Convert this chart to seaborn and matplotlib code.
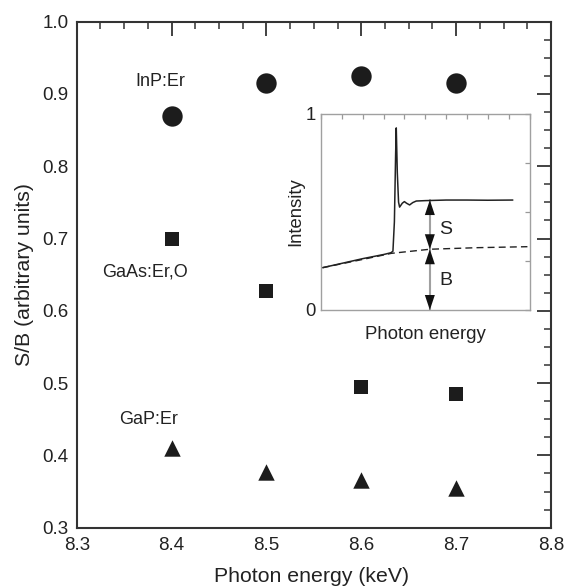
import matplotlib
matplotlib.use("Agg")
import matplotlib.pyplot as plt
import seaborn as sns
import pandas as pd
from matplotlib.ticker import MultipleLocator

sns.set_theme(style="white")
plt.rcParams['font.family'] = ['Liberation Sans', 'DejaVu Sans']

# ---- data ----
energy = [8.4, 8.5, 8.6, 8.7]
inp_er = [0.870, 0.915, 0.925, 0.915]
gaas_er_o = [0.700, 0.628, 0.495, 0.485]
gap_er = [0.410, 0.377, 0.366, 0.355]

# inset spectrum (arbitrary units)
spec_x = [0.008, 0.10, 0.20, 0.30, 0.335, 0.345, 0.352, 0.358, 0.361, 0.366,
          0.372, 0.377, 0.39, 0.40, 0.41, 0.425, 0.44, 0.457, 0.50, 0.60,
          0.70, 0.80, 0.92]
spec_y = [0.216, 0.238, 0.262, 0.283, 0.292, 0.30, 0.45, 0.80, 0.929, 0.70,
          0.55, 0.525, 0.545, 0.553, 0.545, 0.536, 0.548, 0.556, 0.558, 0.561,
          0.561, 0.560, 0.561]
bg_x = [0.008, 0.20, 0.337, 0.522, 0.75, 0.99]
bg_y = [0.216, 0.258, 0.289, 0.310, 0.318, 0.323]
arrow_x = 0.522
s_level = 0.561
b_level = 0.310

ink = '#1c1c1c'
txt = '#222222'
fig = plt.figure(figsize=(5.65, 5.86), dpi=100)
ax = fig.add_axes([0.1358, 0.0995, 0.8395, 0.8635])

sns.scatterplot(x=energy, y=inp_er, marker='o', s=215, color=ink, edgecolor=ink, linewidth=0, ax=ax)
sns.scatterplot(x=energy, y=gaas_er_o, marker='s', s=112, color=ink, edgecolor=ink, linewidth=0, ax=ax)
sns.scatterplot(x=energy, y=gap_er, marker='^', s=140, color=ink, edgecolor=ink, linewidth=0, ax=ax)

ax.set_xlim(8.3, 8.8)
ax.set_ylim(0.3, 1.0)
ax.xaxis.set_major_locator(MultipleLocator(0.1))
ax.xaxis.set_minor_locator(MultipleLocator(0.025))
ax.yaxis.set_major_locator(MultipleLocator(0.1))
ax.yaxis.set_minor_locator(MultipleLocator(0.025))
ax.xaxis.set_major_formatter(matplotlib.ticker.FormatStrFormatter('%.1f'))
ax.yaxis.set_major_formatter(matplotlib.ticker.FormatStrFormatter('%.1f'))
ax.tick_params(which='both', direction='in', top=True, right=True, color='#333333',
               labelsize=13.5, labelcolor=txt)
ax.tick_params(axis='x', which='major', pad=7)
ax.tick_params(axis='y', which='major', pad=6)
ax.tick_params(which='major', length=10, width=1.3)
ax.tick_params(which='minor', length=5, width=1.1)
for sp in ax.spines.values():
    sp.set_color('#333333')
    sp.set_linewidth(1.5)
ax.set_xlabel('Photon energy (keV)', fontsize=15.3, color=txt)
ax.xaxis.set_label_coords(0.495, -0.078)
ax.set_ylabel('S/B (arbitrary units)', fontsize=15.3, color=txt)
ax.yaxis.set_label_coords(-0.09, 0.5)

ax.text(8.388, 0.917, 'InP:Er', ha='center', va='center', fontsize=13, color=txt)
ax.text(8.372, 0.654, 'GaAs:Er,O', ha='center', va='center', fontsize=13, color=txt)
ax.text(8.376, 0.449, 'GaP:Er', ha='center', va='center', fontsize=13, color=txt)

# ---- inset ----
ins = fig.add_axes([321.0 / 565, 1 - 310.0 / 586, 208.5 / 565, 196.0 / 586])
ins.set_facecolor('white')
sns.lineplot(x=spec_x, y=spec_y, color=txt, linewidth=1.1, estimator=None, ax=ins)
sns.lineplot(x=bg_x, y=bg_y, color=txt, linewidth=1.0, linestyle=(0, (5, 3)), estimator=None, ax=ins)
ins.plot([arrow_x, arrow_x], [0, s_level], color='#a0a0a0', linewidth=1.5, zorder=1)
headprops = dict(arrowstyle='-|>,head_length=0.9,head_width=0.3', color='#111111', lw=0,
                 shrinkA=0, shrinkB=0)
for y0, y1 in [(b_level - 0.1, 0.0), (0.1, b_level), (b_level + 0.1, b_level), (s_level - 0.1, s_level)]:
    ins.annotate('', xy=(arrow_x, y1), xytext=(arrow_x, y0), arrowprops=headprops)
ins.text(0.6, 0.413, 'S', fontsize=14, color=txt, ha='center', va='center')
ins.text(0.6, 0.153, 'B', fontsize=14, color=txt, ha='center', va='center')

ins.set_xlim(0, 1)
ins.set_ylim(0, 1)
ins.set_xticks([i / 10 for i in range(11)])
ins.set_xticklabels([])
ins.set_yticks([0, 0.25, 0.5, 0.75, 1])
ins.set_yticklabels(['0', '', '', '', '1'])
ins.tick_params(direction='in', top=True, right=True, length=3.5, width=0.9, color='#999999',
                labelsize=13.3, labelcolor=txt, pad=4)
for sp in ins.spines.values():
    sp.set_color('#a0a0a0')
    sp.set_linewidth(1.0)
ins.set_xlabel('Photon energy', fontsize=13.4, color=txt)
ins.xaxis.set_label_coords(0.5, -0.08)
ins.xaxis.label.set_va('top')
ins.set_ylabel('Intensity', fontsize=13.3, color=txt)
ins.yaxis.set_label_coords(-0.081, 0.5)

fig.savefig('out.png', dpi=100)
